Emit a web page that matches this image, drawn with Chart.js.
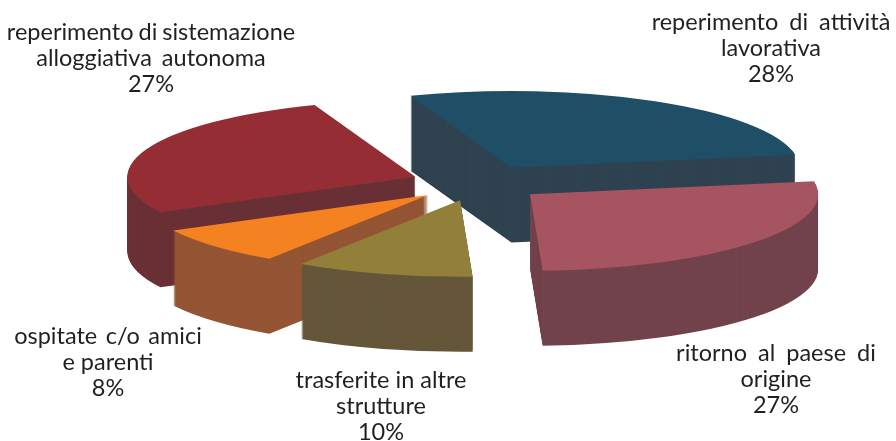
<!DOCTYPE html>
<html><head><meta charset="utf-8">
<script src="https://cdn.jsdelivr.net/npm/chart.js@4"></script>
<style>html,body{margin:0;padding:0;background:#fff}canvas{display:block}</style>
</head><body><canvas id="c" width="896" height="441"></canvas>
<script>
// data, clockwise from the back of the pie
const categories = ["reperimento di attività lavorativa","ritorno al paese di origine","trasferite in altre strutture","ospitate c/o amici e parenti","reperimento di sistemazione alloggiativa autonoma"];
const values = [28,27,10,8,27];
const percentLabels = ["28%","27%","10%","8%","27%"];
const labelLines = [["reperimento di attività","lavorativa"],["ritorno al paese di","origine"],["trasferite in altre","strutture"],["ospitate c/o amici","e parenti"],["reperimento di sistemazione","alloggiativa autonoma"]];
// styling
const topColors = ["#1F4F66","#A55460","#917F3A","#F58220","#952E34"];
const sideColors = ["#2F4250","#72434C","#65563A","#945535","#693036"];
const labelAnchors = [[771,22],[776,353],[381,380],[108,336],[151,32]];
const labelWordGaps = [[5,0,0],[5,0,0],[0,0,0],[2.5,0,0],[-1,4,0]];
const lineGap = 26;
const paintOrder = [0,4,3,2,1];
const view = {cx:478, cy:183, radius:288, squash:0.266, depth:75, explode:67};

const pie3d = {
  id:'pie3d',
  beforeDatasetDraw(chart,args){
    const ctx = chart.ctx, arcs = chart.getDatasetMeta(args.index).data;
    const k = view.radius/arcs[0].outerRadius;
    const place = (arc,dy)=>{
      const mid = (arc.startAngle+arc.endAngle)/2;
      ctx.save();
      ctx.translate(view.cx, view.cy+dy);
      ctx.scale(k,k*view.squash);
      ctx.translate(-arc.x+Math.cos(mid)*view.explode/k,-arc.y+Math.sin(mid)*view.explode/k);
      arc.draw(ctx);
      ctx.restore();
    };
    for(const i of paintOrder){
      const arc = arcs[i], base = arc.options;
      arc.options = Object.assign({},base,{backgroundColor:sideColors[i],borderWidth:0});
      for(let dy=view.depth;dy>=1;dy--) place(arc,dy);
      arc.options = Object.assign({},base,{backgroundColor:topColors[i],borderWidth:0});
      place(arc,0);
      arc.options = base;
    }
    return false;
  },
  afterDraw(chart){
    const ctx = chart.ctx;
    ctx.save();
    ctx.font = '23.5px Lato';
    ctx.fillStyle = '#231F20';
    ctx.textAlign = 'center';
    ctx.textBaseline = 'middle';
    labelLines.forEach((lines,i)=>{
      const [x,y] = labelAnchors[i];
      [...lines,percentLabels[i]].forEach((t,j)=>{
        ctx.wordSpacing = labelWordGaps[i][j]+'px';
        ctx.fillText(t,x,y+j*lineGap);
      });
    });
    ctx.restore();
  }
};

new Chart(document.getElementById('c'),{
  type:'pie',
  data:{labels:categories,datasets:[{data:values,backgroundColor:topColors,borderWidth:0}]},
  options:{
    responsive:false,animation:false,events:[],rotation:-20.5,
    layout:{padding:0},
    plugins:{legend:{display:false},tooltip:{enabled:false}}
  },
  plugins:[pie3d]
});
</script></body></html>
